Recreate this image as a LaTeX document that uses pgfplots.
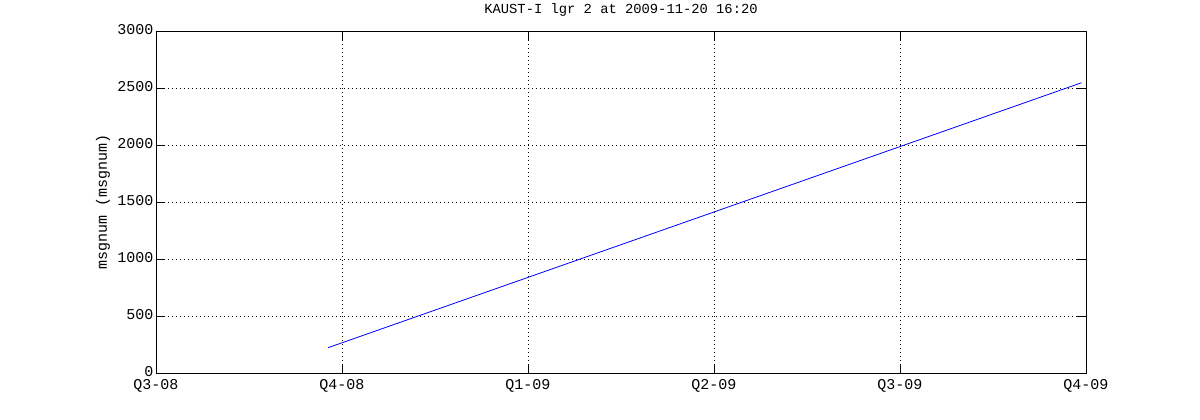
\documentclass[border=0pt]{standalone}
\usepackage{fontspec}
\setmainfont{Liberation Mono}
\usepackage{pgfplots}
\pgfplotsset{compat=1.18}
\begin{document}
\begin{tikzpicture}[font=\fontsize{15pt}{17pt}\selectfont]
\begin{axis}[
  scale only axis, width=930pt, height=342pt,
  at={(0,0)}, anchor=south west,
  xmin=0, xmax=5, ymin=0, ymax=3000,
  xtick={0,1,2,3,4,5},
  xticklabels={Q3-08,Q4-08,Q1-09,Q2-09,Q3-09,Q4-09},
  ytick={0,500,1000,1500,2000,2500,3000},
  scaled y ticks=false,
  /pgf/number format/assume math mode=true,
  yticklabel style={/pgf/number format/1000 sep={}, xshift=1pt, yshift=1.5pt},
  xticklabel style={yshift=-4pt, inner sep=2pt},
  tick align=inside, major tick length=9pt,
  tick style={black, line width=0.5pt},
  grid=major,
  major grid style={black, line width=0.6pt, dash pattern=on 1pt off 3pt},
  axis line style={black, line width=0.6pt},
  title={KAUST-I lgr 2 at 2009-11-20 16:20},
  title style={at={(0.5,1)}, anchor=south, yshift=5pt, font=\fontsize{13.8pt}{16pt}\selectfont},
  ylabel={msgnum (msgnum)},
  ylabel style={at={(axis description cs:-0.057,0.5)}, anchor=center},
]
\addplot[color={rgb,255:red,0;green,0;blue,255}, line width=0.8pt] coordinates {(0.925,222) (4.976,2546)};
\end{axis}
\path[use as bounding box] (-156pt,-47pt) rectangle (1044pt,373pt);
\end{tikzpicture}
\end{document}
